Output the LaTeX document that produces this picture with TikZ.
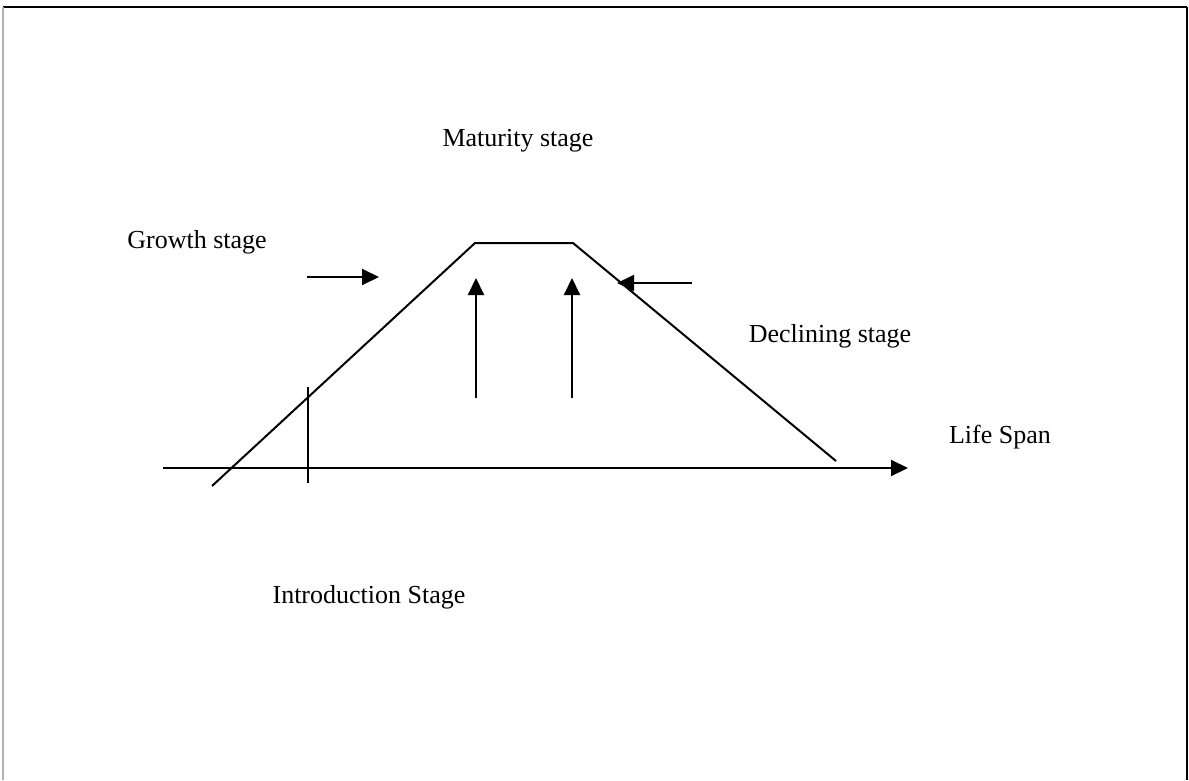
\documentclass[tikz,border=0pt]{standalone}
\usepackage{fontspec}
\setmainfont{Liberation Serif}
\usetikzlibrary{arrows.meta}
\begin{document}
\begin{tikzpicture}[x=1pt,y=-1pt,
  lbl/.style={font=\fontsize{26}{30}\selectfont, inner sep=0pt, anchor=center},
  ln/.style={line width=2pt, black},
  arr/.style={ln, -{Triangle[length=17pt,width=16pt]}}]
\useasboundingbox (0,0) rectangle (1189,780);
% frame
\draw[line width=2pt] (3,7) -- (1187,7);
\draw[line width=2pt] (1187,7) -- (1187,780);
\draw[line width=2.5pt, black!30] (3,7) -- (3,780);
% labels
\node[lbl] (mat) at (518,141) {Maturity stage};
\node[lbl] (gro) at (197,242) {Growth stage};
\node[lbl] (dec) at (830,336) {Declining stage};
\node[lbl] (life) at (1000,437) {Life Span};
\node[lbl] (intro) at (369,597) {Introduction Stage};
% coordinates
\coordinate (ax0) at (163,468);
\coordinate (ax1) at (908,468);
\coordinate (s0) at (212,486);
\coordinate (p0) at (475,243);
\coordinate (p1) at (573,243);
\coordinate (s1) at (836,461);
\coordinate (v0) at (308,387);
\coordinate (v1) at (308,483);
\coordinate (u0a) at (476,398);
\coordinate (u0b) at (476,278);
\coordinate (u1a) at (572,398);
\coordinate (u1b) at (572,278);
\coordinate (g0) at (307,277);
\coordinate (g1) at (379,277);
\coordinate (d0) at (692,283);
\coordinate (d1) at (617,283);
% curve
\draw[ln] (s0) -- (p0) -- (p1) -- (s1);
\draw[arr] (ax0) -- (ax1);
\draw[ln, line width=1.5pt] (v0) -- (v1);
\draw[arr] (u0a) -- (u0b);
\draw[arr] (u1a) -- (u1b);
\draw[arr] (g0) -- (g1);
\draw[arr] (d0) -- (d1);
\end{tikzpicture}
\end{document}
